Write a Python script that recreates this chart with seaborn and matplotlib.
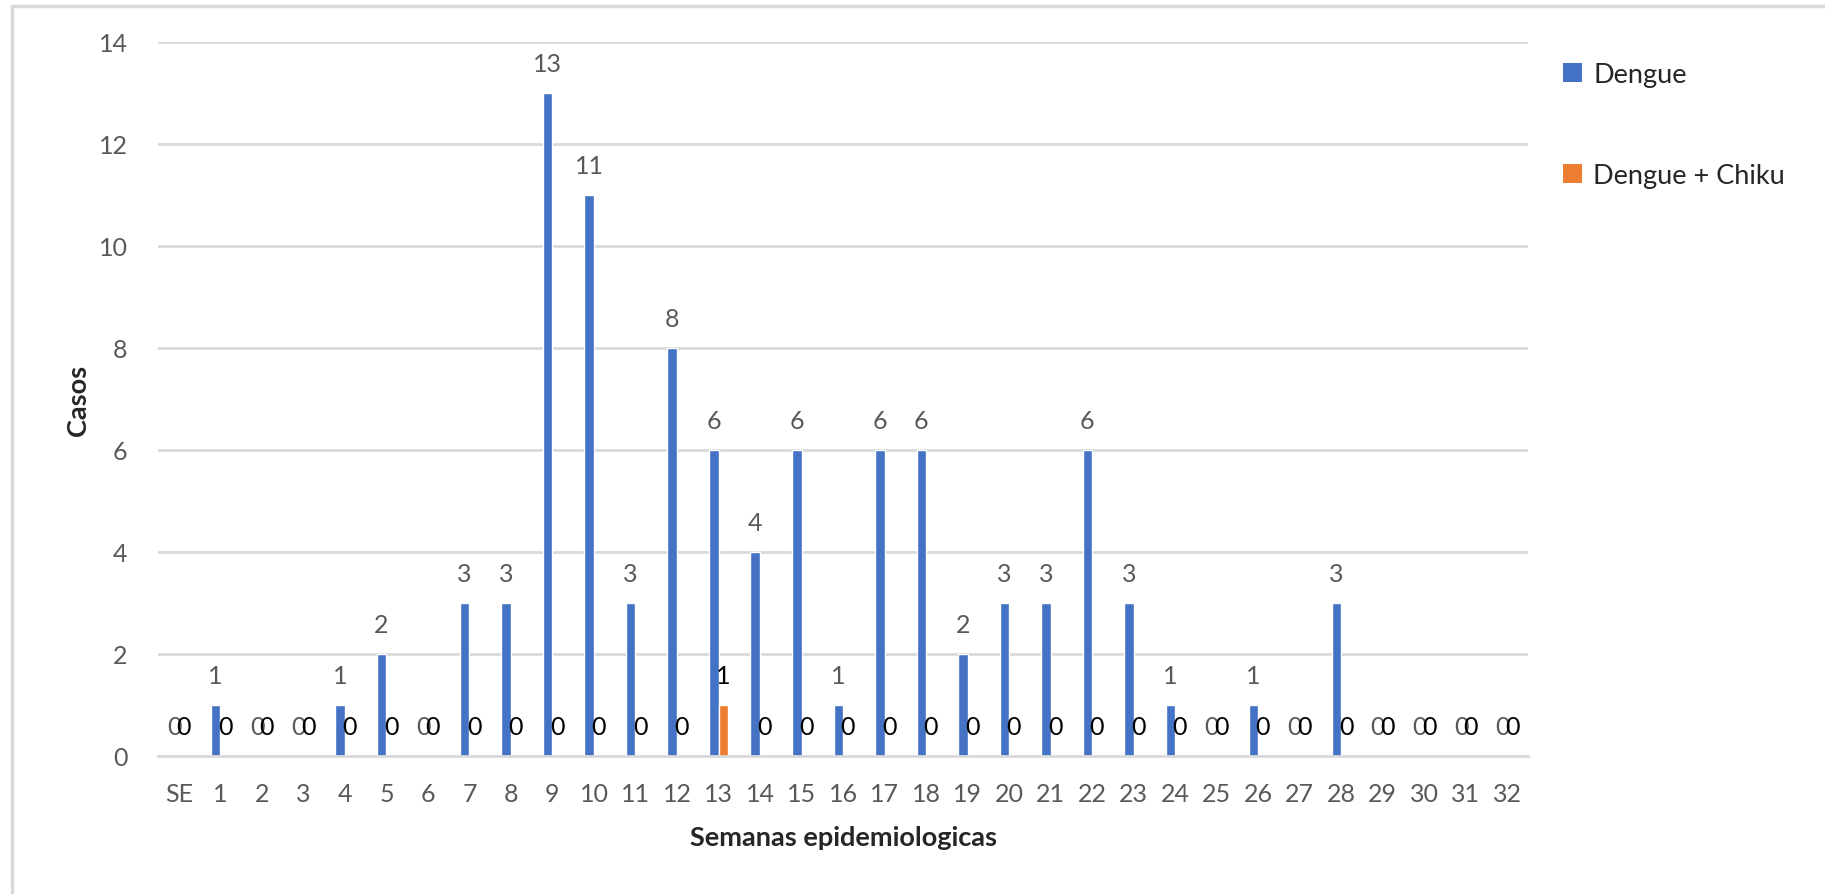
import seaborn as sns
import matplotlib.pyplot as plt
import pandas as pd
import numpy as np
from matplotlib.lines import Line2D
from matplotlib.patches import Patch

# Semanas epidemiologicas
semanas = ['SE'] + [str(i) for i in range(1, 33)]
dengue = [0, 1, 0, 0, 1, 2, 0, 3, 3, 13, 11, 3, 8, 6, 4, 6, 1, 6, 6, 2,
          3, 3, 6, 3, 1, 0, 1, 0, 3, 0, 0, 0, 0]
dengue_chiku = [0] * 13 + [1] + [0] * 19
series_names = ['Dengue', 'Dengue + Chiku']
colors = ['#4472C4', '#ED7D31']
label_colors = ['#595959', '#000000']

df = pd.DataFrame({
    'Semana': semanas * 2,
    'Casos': dengue + dengue_chiku,
    'Serie': [series_names[0]] * len(semanas) + [series_names[1]] * len(semanas),
})

sns.set_style('white')
plt.rcParams['font.family'] = ['Lato', 'DejaVu Sans']

fig = plt.figure(figsize=(18.25, 8.95), dpi=100)
ax = fig.add_axes([0.0866, 0.1542, 0.8373 - 0.0866, 0.952 - 0.1542])

sns.barplot(data=df, x='Semana', y='Casos', hue='Serie', order=semanas,
            hue_order=series_names, palette=colors, width=0.46,
            saturation=1, errorbar=None, legend=False, ax=ax)

# Data labels (zeros overlap like in the original chart)
for cont, col in zip(ax.containers, label_colors):
    ax.bar_label(cont, fmt='%d', padding=13, color=col, fontsize=18)

# Axes styling
ax.set_ylim(0, 14)
ax.set_xlim(-0.5, len(semanas) - 0.5)
ax.set_yticks(np.arange(0, 15, 2))
ax.yaxis.grid(True, color='#D9D9D9', linewidth=2)
ax.set_axisbelow(True)
for s in ['top', 'right', 'left']:
    ax.spines[s].set_visible(False)
ax.spines['bottom'].set_color('#D9D9D9')
ax.spines['bottom'].set_linewidth(2)

ax.set_xticks(np.arange(-0.5, len(semanas)), minor=True)
ax.tick_params(axis='x', which='minor', length=6, width=2, color='#D9D9D9')
ax.tick_params(axis='x', which='major', length=0, pad=19, labelsize=18, labelcolor='#595959')
ax.tick_params(axis='y', length=0, pad=22, labelsize=18, labelcolor='#595959')

ax.set_xlabel('Semanas epidemiologicas', fontsize=19.5, fontweight='bold', labelpad=14)
ax.set_ylabel('Casos', fontsize=19.5, fontweight='bold', labelpad=6)

# Legend
handles = [Patch(facecolor=c, edgecolor='none') for c in colors]
fig.legend(handles, series_names, loc='upper left', bbox_to_anchor=(0.843, 0.957),
           frameon=False, fontsize=19.5, labelspacing=2.8, handlelength=0.72,
           handleheight=0.72, handletextpad=0.4)

# Chart border (left and top)
fig.add_artist(Line2D([12 / 1825, 12 / 1825], [0, 1 - 7 / 895], transform=fig.transFigure,
                      color='#D9D9D9', linewidth=2.5))
fig.add_artist(Line2D([12 / 1825, 1], [1 - 7 / 895, 1 - 7 / 895], transform=fig.transFigure,
                      color='#D9D9D9', linewidth=2.5))

fig.savefig('out.png', dpi=100)
